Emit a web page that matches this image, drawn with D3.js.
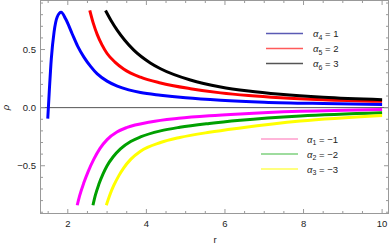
<html>
<head>
  <script src="https://d3js.org/d3.v7.min.js"></script>
  <style>
    body { margin: 0; background: white; }
    .tick-label { font-family: "Liberation Sans", Arial, sans-serif; font-size: 9.5px; fill: #222; }
    .leg { font-family: "Liberation Sans", Arial, sans-serif; font-size: 9.5px; fill: #222; }
    .frame { stroke: #999; stroke-width: 1px; fill: none; }
  </style>
</head>
<body>
<svg id="chart" width="390" height="245"></svg>
<script>
// data (r, rho) per curve
const blueR = [1.49, 1.53, 1.58, 1.65, 1.73, 1.83, 1.95, 2.11, 2.25, 2.41, 2.58, 2.75, 3.0, 3.26, 3.55, 3.85, 4.36, 5.0, 5.89, 7.0, 8.5, 10.0];
const blueV = [-0.095, 0.15, 0.42, 0.65, 0.78, 0.82, 0.76, 0.636, 0.53, 0.435, 0.355, 0.29, 0.228, 0.185, 0.153, 0.13, 0.107, 0.085, 0.064, 0.047, 0.035, 0.027];
const redR = [2.56, 2.65, 2.75, 2.87, 3.0, 3.2, 3.42, 3.85, 4.36, 5.12, 5.89, 6.6, 7.41, 8.5, 10.0];
const redV = [0.836, 0.725, 0.628, 0.54, 0.466, 0.392, 0.333, 0.262, 0.212, 0.163, 0.127, 0.104, 0.085, 0.068, 0.054];
const blackR = [2.96, 3.1, 3.26, 3.45, 3.68, 4.1, 4.36, 5.12, 5.89, 6.6, 7.41, 8.5, 10.0];
const blackV = [0.836, 0.75, 0.665, 0.58, 0.495, 0.385, 0.335, 0.238, 0.178, 0.143, 0.115, 0.089, 0.068];
const magR = [2.24, 2.3, 2.41, 2.52, 2.66, 2.82, 3.0, 3.25, 3.51, 4.1, 4.82, 5.6, 6.39, 7.92, 10.0];
const magV = [-0.84, -0.76, -0.645, -0.548, -0.445, -0.35, -0.275, -0.21, -0.17, -0.123, -0.092, -0.07, -0.054, -0.032, -0.016];
const greenR = [2.64, 2.7, 2.79, 2.9, 3.0, 3.15, 3.34, 3.6, 3.85, 4.36, 4.85, 5.6, 6.39, 7.92, 10.0];
const greenV = [-0.84, -0.755, -0.66, -0.568, -0.5, -0.425, -0.355, -0.292, -0.252, -0.2, -0.169, -0.136, -0.109, -0.072, -0.044];
const yellowR = [2.98, 3.06, 3.17, 3.3, 3.42, 3.6, 3.85, 4.36, 4.85, 5.6, 6.39, 7.92, 10.0];
const yellowV = [-0.84, -0.76, -0.67, -0.585, -0.52, -0.445, -0.375, -0.3, -0.257, -0.212, -0.175, -0.115, -0.067];

const xTicks = [2, 4, 6, 8, 10];
const yTicks = [-0.5, 0.0, 0.5];

const curves = [
  { r: blueR, v: blueV, color: "#0000ff" },
  { r: redR, v: redV, color: "#ff0000" },
  { r: blackR, v: blackV, color: "#000000" },
  { r: magR, v: magV, color: "#ff00ff" },
  { r: greenR, v: greenV, color: "#00a000" },
  { r: yellowR, v: yellowV, color: "#ffff00" }
];
const legendTop = [
  { sub: "4", val: "1", color: "#5a5ab4" },
  { sub: "5", val: "2", color: "#ff5a5a" },
  { sub: "6", val: "3", color: "#555555" }
];
const legendBottom = [
  { sub: "1", val: "\u22121", color: "#ff9ccc" },
  { sub: "2", val: "\u22122", color: "#7ed07e" },
  { sub: "3", val: "\u22123", color: "#ffff55" }
];

const svg = d3.select("#chart");
const pLeft = 40.5, pRight = 388.5, pTop = 0.5, pBottom = 213.5;

const x = d3.scaleLinear().domain([1.305, 10.15]).range([pLeft, pRight - 0.5]);
const y = d3.scaleLinear().domain([-0.911, 0.922]).range([pBottom, pTop]);

svg.append("defs").append("clipPath").attr("id", "clip")
  .append("rect").attr("x", pLeft).attr("y", pTop).attr("width", pRight - pLeft).attr("height", pBottom - pTop);

// zero line
svg.append("line").attr("x1", pLeft).attr("x2", pRight)
  .attr("y1", y(0)).attr("y2", y(0))
  .attr("stroke", "#555").attr("stroke-width", 1);

// curves
const line = d3.line().x(d => x(d[0])).y(d => y(d[1])).curve(d3.curveMonotoneX);
const plot = svg.append("g").attr("clip-path", "url(#clip)");
curves.forEach(c => {
  plot.append("path")
    .datum(c.r.map((r, i) => [r, c.v[i]]))
    .attr("d", line)
    .attr("fill", "none")
    .attr("stroke", c.color)
    .attr("stroke-width", 3);
});

// frame
svg.append("rect").attr("class", "frame")
  .attr("x", pLeft).attr("y", pTop).attr("width", pRight - pLeft).attr("height", pBottom - pTop);

// ticks
const xMinor = d3.range(1.5, 10.01, 0.5).filter(t => !xTicks.includes(t));
const yMinor = d3.range(-0.9, 0.91, 0.1).map(t => +t.toFixed(1)).filter(t => !yTicks.includes(t));
const tg = svg.append("g").attr("stroke", "#999").attr("stroke-width", 1);
xTicks.forEach(t => {
  tg.append("line").attr("x1", x(t)).attr("x2", x(t)).attr("y1", pBottom).attr("y2", pBottom - 4.5);
  tg.append("line").attr("x1", x(t)).attr("x2", x(t)).attr("y1", pTop).attr("y2", pTop + 4.5);
});
xMinor.forEach(t => {
  tg.append("line").attr("x1", x(t)).attr("x2", x(t)).attr("y1", pBottom).attr("y2", pBottom - 2.5);
  tg.append("line").attr("x1", x(t)).attr("x2", x(t)).attr("y1", pTop).attr("y2", pTop + 2.5);
});
yTicks.forEach(t => {
  tg.append("line").attr("y1", y(t)).attr("y2", y(t)).attr("x1", pLeft).attr("x2", pLeft + 4.5);
  tg.append("line").attr("y1", y(t)).attr("y2", y(t)).attr("x1", pRight).attr("x2", pRight - 4.5);
});
yMinor.forEach(t => {
  tg.append("line").attr("y1", y(t)).attr("y2", y(t)).attr("x1", pLeft).attr("x2", pLeft + 2.5);
  tg.append("line").attr("y1", y(t)).attr("y2", y(t)).attr("x1", pRight).attr("x2", pRight - 2.5);
});

// tick labels
xTicks.forEach(t => {
  svg.append("text").attr("class", "tick-label")
    .attr("x", x(t)).attr("y", 227).attr("text-anchor", "middle").text(t);
});
yTicks.forEach(t => {
  svg.append("text").attr("class", "tick-label")
    .attr("x", 36).attr("y", y(t) + 3.5).attr("text-anchor", "end")
    .text(t < 0 ? "\u2212" + d3.format(".1f")(-t) : d3.format(".1f")(t));
});

// axis titles
svg.append("text").attr("class", "tick-label")
  .attr("x", 215).attr("y", 243).attr("text-anchor", "middle").text("r");
svg.append("text").attr("class", "tick-label")
  .attr("transform", `translate(9,${y(0)}) rotate(-90)`)
  .attr("text-anchor", "middle").style("font-style", "italic").text("\u03c1");

// legends
function drawLegend(items, x1, x2, tx, y0, dy) {
  items.forEach((d, i) => {
    const yy = y0 + i * dy;
    svg.append("line").attr("x1", x1).attr("x2", x2).attr("y1", yy).attr("y2", yy)
      .attr("stroke", d.color).attr("stroke-width", 1.3);
    const t = svg.append("text").attr("class", "leg").attr("x", tx).attr("y", yy + 3.5);
    t.append("tspan").style("font-style", "italic").text("\u03b1");
    t.append("tspan").attr("dy", 2.5).style("font-size", "7px").text(d.sub);
    t.append("tspan").attr("dy", -2.5).text(" = " + d.val);
  });
}
drawLegend(legendTop, 266, 303, 313, 33.5, 15);
drawLegend(legendBottom, 261, 298, 307, 139, 15);
</script>
</body>
</html>
